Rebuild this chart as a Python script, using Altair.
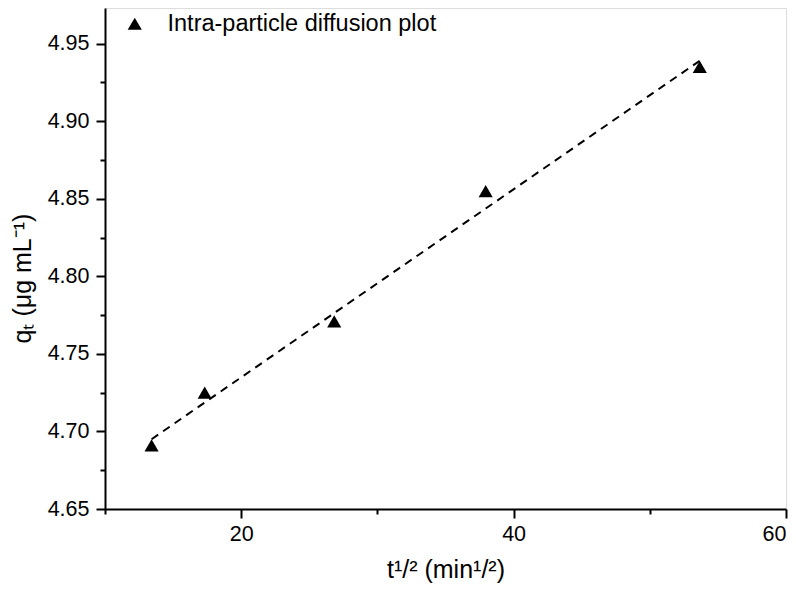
import altair as alt
import pandas as pd

# data
t_half = [13.42, 17.32, 26.83, 37.95, 53.67]
qt = [4.691, 4.725, 4.771, 4.855, 4.935]
fit_x = [13.42, 53.67]
fit_y = [4.695, 4.939]
series_name = "Intra-particle diffusion plot"

x_major = [20, 40, 60]
x_minor = [10, 30, 50]
y_major = [4.65, 4.70, 4.75, 4.80, 4.85, 4.90, 4.95]
y_minor = [4.675, 4.725, 4.775, 4.825, 4.875, 4.925]

FONT = "Liberation Sans"

pts = pd.DataFrame({"t": t_half, "q": qt, "series": [series_name] * len(t_half)})
fit = pd.DataFrame({"t": fit_x, "q": fit_y})

xscale = alt.Scale(domain=[10, 60], nice=False, zero=False)
yscale = alt.Scale(domain=[4.65, 4.973], nice=False, zero=False)

major_x_axis = alt.Axis(values=x_major, format="d", tickSize=9, tickWidth=2,
                        domainWidth=2, domainColor="black", tickColor="black",
                        labelFontSize=21.5, labelFont=FONT, labelColor="black",
                        labelPadding=5, labelFlush=True,
                        title="t¹/² (min¹/²)", titleFont=FONT,
                        titleFontSize=25, titleFontWeight="normal", titleColor="black",
                        titlePadding=13, grid=False, orient="bottom")
minor_x_axis = alt.Axis(values=x_minor, tickSize=5, tickWidth=2, labels=False,
                        domain=False, tickColor="black", title=None, grid=False,
                        orient="bottom")
major_y_axis = alt.Axis(values=y_major, format=".2f", tickSize=9, tickWidth=2,
                        domainWidth=2, domainColor="black", tickColor="black",
                        labelFontSize=21.5, labelFont=FONT, labelColor="black",
                        labelPadding=7, labelFlush=False,
                        title="qₜ (μg mL⁻¹)", titleFont=FONT,
                        titleFontSize=25, titleFontWeight="normal", titleColor="black",
                        titlePadding=12, titleY=270, grid=False, orient="left")
minor_y_axis = alt.Axis(values=y_minor, tickSize=5, tickWidth=2, labels=False,
                        domain=False, tickColor="black", title=None, grid=False,
                        orient="left")

line = alt.Chart(fit).mark_line(color="black", strokeWidth=2, strokeDash=[8, 6]).encode(
    x=alt.X("t:Q", scale=xscale, axis=minor_x_axis),
    y=alt.Y("q:Q", scale=yscale, axis=minor_y_axis),
)

points = alt.Chart(pts).mark_point(filled=True, opacity=1, size=200, color="black").encode(
    x=alt.X("t:Q", scale=xscale, axis=major_x_axis),
    y=alt.Y("q:Q", scale=yscale, axis=major_y_axis),
    shape=alt.Shape("series:N", scale=alt.Scale(range=["triangle-up"]),
                    legend=alt.Legend(title=None, orient="none", legendX=18, legendY=4,
                                      labelFont=FONT, labelFontSize=23.5, labelColor="black",
                                      labelLimit=0,
                                      symbolSize=200, symbolFillColor="black",
                                      symbolStrokeColor="black", symbolType="triangle-up",
                                      labelOffset=21, padding=0)),
)

chart = alt.layer(line, points).resolve_axis(x="independent", y="independent").properties(
    width=681, height=501,
    autosize=alt.AutoSizeParams(type="none"),
    padding={"left": 97, "top": 0, "right": 2, "bottom": 75},
).configure_view(stroke="black", strokeWidth=2).configure(background="white")

chart.save("out.html", embed_options={"renderer": "svg", "actions": False})
